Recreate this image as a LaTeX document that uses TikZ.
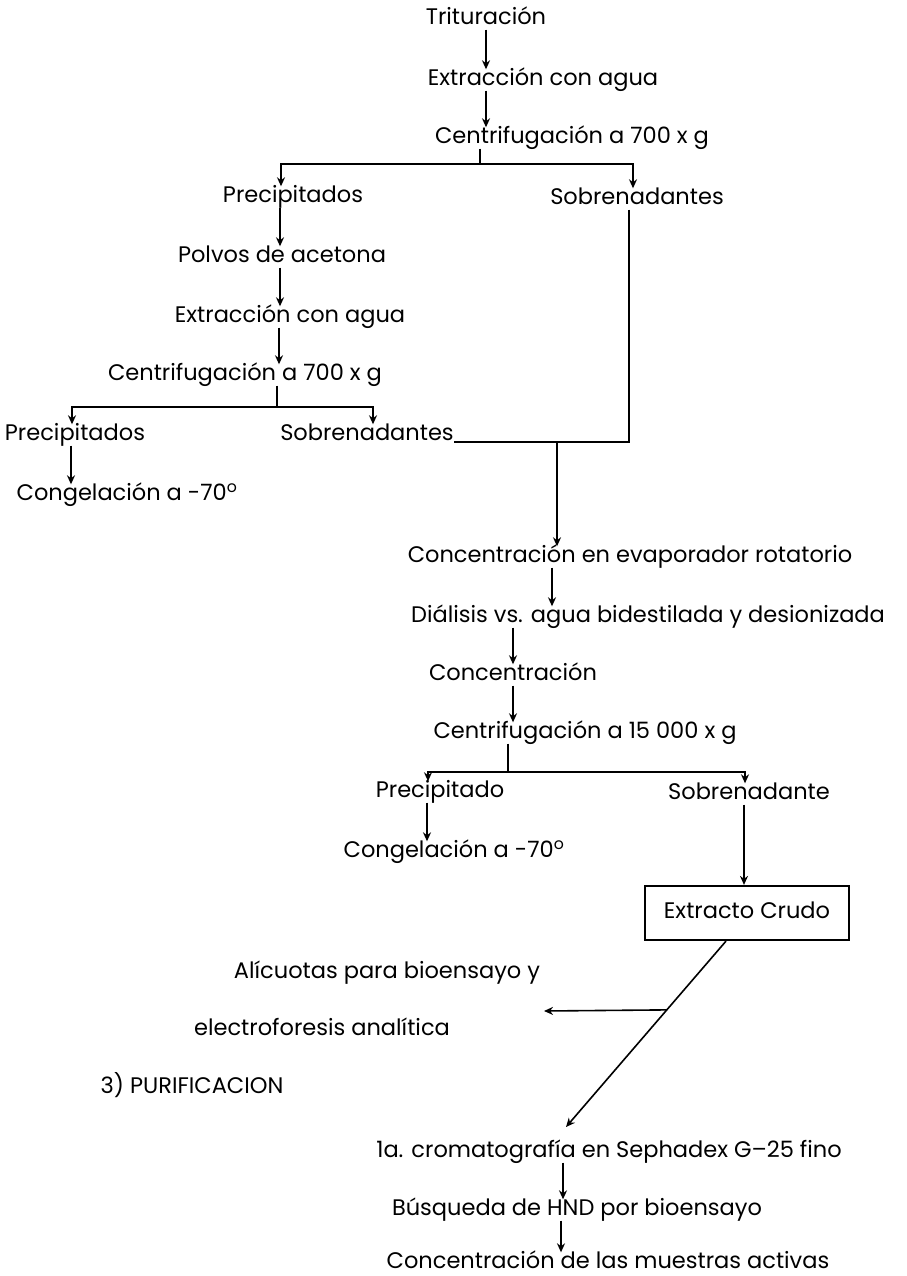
\documentclass[tikz,border=0pt]{standalone}
\usepackage{fontspec}
\setmainfont{Poppins}
\usetikzlibrary{arrows.meta}

\tikzset{
    paso/.style={font=\fontsize{22.5}{26}\selectfont, inner sep=0pt, text height=16pt, text depth=5pt},
    flecha/.style={-{Stealth[length=9pt, width=8pt]}, line width=1.6pt},
    linea/.style={line width=1.6pt},
    caja/.style={paso, draw, line width=2.2pt, minimum width=204pt, minimum height=54pt}
}

\begin{document}
\begin{tikzpicture}[x=1pt, y=-1pt]
        % \draw[help lines, step=50] (0,0) grid (906, 1276);
        \useasboundingbox[fill=white] (0,0) rectangle (906,1276);

        \node[paso] (tri)  at (486, 19)  {Trituración};
        \node[paso] (ext1) at (543, 80)  {Extracción con agua};
        \node[paso] (cen1) at (572, 138) {Centrifugación a 700 x g};
        \node[paso] (pre1) at (293, 197) {Precipitados};
        \node[paso] (sob1) at (637, 199) {Sobrenadantes};
        \node[paso] (pol)  at (282, 257) {Polvos de acetona};
        \node[paso] (ext2) at (290, 317) {Extracción con agua};
        \node[paso] (cen2) at (245, 375) {Centrifugación a 700 x g};
        \node[paso] (pre2) at (75, 435)  {Precipitados};
        \node[paso] (sob2) at (367, 435) {Sobrenadantes};
        \node[paso] (con2) at (127, 495) {Congelación a -70\textsuperscript{o}};

        \node[paso] (eva)  at (630, 557) {Concentración en evaporador rotatorio};
        \node[paso] (dia)  at (648, 617) {Diálisis vs. agua bidestilada y desionizada};
        \node[paso] (conc) at (513, 675) {Concentración};
        \node[paso] (cen3) at (585, 733) {Centrifugación a 15 000 x g};
        \node[paso] (pre3) at (440, 792) {Precipitado};
        \node[paso] (sob3) at (749, 794) {Sobrenadante};
        \node[paso] (con3) at (454, 852) {Congelación a -70\textsuperscript{o}};
        \node[caja] (cru)  at (747, 913) {Extracto Crudo};

        \node[paso] (ali)  at (387, 973)  {Alícuotas para bioensayo y};
        \node[paso] (ele)  at (322, 1030) {electroforesis analítica};
        \node[paso] (pur)  at (192, 1088) {3) PURIFICACION};
        \node[paso] (cro)  at (609, 1152) {1a. cromatografía en Sephadex G--25 fino};
        \node[paso] (bus)  at (577, 1210) {Búsqueda de HND por bioensayo};
        \node[paso] (cmu)  at (608, 1263) {Concentración de las muestras activas};

        \coordinate (j1) at (480, 164);
        \coordinate (j2) at (277, 407);
        \coordinate (j3) at (557, 442);
        \coordinate (j4) at (508, 772);
        \coordinate (d1) at (566, 1127);
        \coordinate (d3) at (544, 1011);

        \draw[flecha] (tri.south) -- (tri.south |- ext1.north);
        \draw[flecha] (tri.south |- ext1.south) -- (tri.south |- cen1.north);
        \draw[linea] (cen1.south -| j1) -- (j1);
        \draw[flecha] (j1) -| ([xshift=-12pt]pre1.north);
        \draw[flecha] (j1) -| ([xshift=-4pt]sob1.north);

        \draw[flecha] ([xshift=-13pt]pre1.south) -- ([xshift=-13pt]pre1.south |- pol.north);
        \draw[flecha] ([xshift=-2pt]pol.south) -- ([xshift=-2pt]pol.south |- ext2.north);
        \draw[flecha] ([xshift=-11pt]ext2.south) -- ([xshift=-11pt]ext2.south |- cen2.north);
        \draw[linea] (cen2.south -| j2) -- (j2);
        \draw[flecha] (j2) -| ([xshift=-3pt]pre2.north);
        \draw[flecha] (j2) -| ([xshift=6pt]sob2.north);
        \draw[flecha] ([xshift=-4pt]pre2.south) -- ([xshift=-4pt]pre2.south |- con2.north);

        \draw[linea] ([xshift=-8pt]sob1.south) |- ([yshift=-7pt]sob2.east);
        \draw[flecha] (j3) -- (eva.north -| j3);
        \draw[flecha] ([xshift=-78pt]eva.south) -- ([xshift=-78pt]eva.south |- dia.north);
        \draw[flecha] (conc.north |- dia.south) -- (conc.north);
        \draw[flecha] (conc.south) -- (conc.south |- cen3.north);
        \draw[linea] (cen3.south -| j4) -- (j4);
        \draw[flecha] (j4) -| ([xshift=-12pt]pre3.north);
        \draw[flecha] (j4) -| ([xshift=-4pt]sob3.north);
        \draw[flecha] ([xshift=-13pt]pre3.south) -- ([xshift=-13pt]pre3.south |- con3.north);
        \draw[flecha] ([xshift=-5pt]sob3.south) -- ([xshift=-5pt]sob3.south |- cru.north);

        \draw[flecha] ([xshift=-21pt]cru.south) -- coordinate[pos=0.37] (d2) (d1);
        \draw[flecha] (d2) -- (d3);
        \draw[flecha] ([xshift=-46pt]cro.south) -- ([xshift=-46pt]cro.south |- bus.north);
        \draw[flecha] ([xshift=-16pt]bus.south) -- ([xshift=-16pt]bus.south |- cmu.north);

    \end{tikzpicture}
\end{document}
